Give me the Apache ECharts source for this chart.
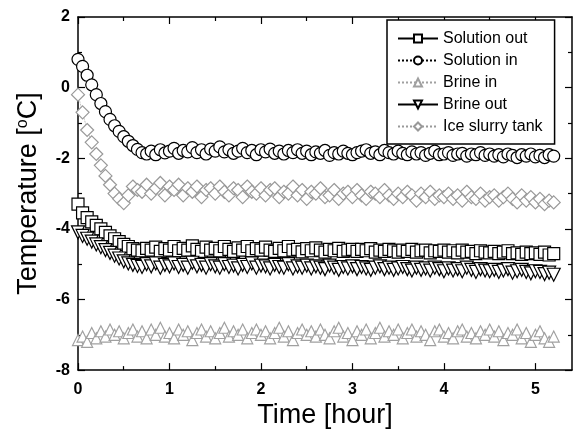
<!DOCTYPE html>
<html>
<head>
<meta charset="utf-8">
<script src="https://cdn.jsdelivr.net/npm/echarts@6/dist/echarts.min.js"></script>
<style>
  html, body { margin: 0; padding: 0; background: #fff; }
  #chart { width: 574px; height: 434px; }
</style>
</head>
<body>
<div id="chart"></div>
<script>
// time axis (hour)
const time = [
  0, 0.05, 0.1, 0.15, 0.2, 0.25, 0.3, 0.35, 0.4, 0.45, 0.5, 0.55, 0.6, 0.65,
  0.7, 0.75, 0.8, 0.85, 0.9, 0.95, 1.0,
  1.05, 1.1, 1.15, 1.2, 1.25, 1.3, 1.35, 1.4, 1.45, 1.5,
  1.55, 1.6, 1.65, 1.7, 1.75, 1.8, 1.85, 1.9, 1.95, 2.0,
  2.05, 2.1, 2.15, 2.2, 2.25, 2.3, 2.35, 2.4, 2.45, 2.5,
  2.55, 2.6, 2.65, 2.7, 2.75, 2.8, 2.85, 2.9, 2.95, 3.0,
  3.05, 3.1, 3.15, 3.2, 3.25, 3.3, 3.35, 3.4, 3.45, 3.5,
  3.55, 3.6, 3.65, 3.7, 3.75, 3.8, 3.85, 3.9, 3.95, 4.0,
  4.05, 4.1, 4.15, 4.2, 4.25, 4.3, 4.35, 4.4, 4.45, 4.5,
  4.55, 4.6, 4.65, 4.7, 4.75, 4.8, 4.85, 4.9, 4.95, 5.0,
  5.05, 5.1, 5.15, 5.2
];

const solutionOut = [
  -3.3, -3.55, -3.68, -3.8, -3.9, -4.0, -4.1, -4.2, -4.28, -4.36, -4.44, -4.5, -4.56, -4.6,
  -4.62, -4.55, -4.6, -4.52, -4.64, -4.56, -4.6,
  -4.5, -4.62, -4.55, -4.6, -4.48, -4.58, -4.64, -4.52, -4.6, -4.55,
  -4.62, -4.5, -4.58, -4.64, -4.54, -4.6, -4.5, -4.62, -4.56, -4.6,
  -4.52, -4.6, -4.64, -4.55, -4.62, -4.5, -4.6, -4.58, -4.65, -4.56,
  -4.62, -4.54, -4.6, -4.66, -4.58, -4.62, -4.55, -4.64, -4.6, -4.58,
  -4.64, -4.58, -4.62, -4.56, -4.66, -4.6, -4.64, -4.58, -4.62, -4.66,
  -4.6, -4.64, -4.58, -4.66, -4.62, -4.6, -4.68, -4.62, -4.64, -4.6,
  -4.66, -4.62, -4.68, -4.6, -4.66, -4.64, -4.7, -4.62, -4.66, -4.68,
  -4.64, -4.7, -4.66, -4.62, -4.7, -4.68, -4.72, -4.66, -4.7, -4.68,
  -4.72, -4.66, -4.74, -4.7
];

const solutionIn = [
  0.8, 0.6, 0.35, 0.08, -0.2, -0.45, -0.68, -0.9, -1.08, -1.24, -1.39, -1.52, -1.64, -1.75,
  -1.84, -1.88, -1.8, -1.9, -1.76, -1.85, -1.8,
  -1.72, -1.86, -1.78, -1.82, -1.7, -1.84, -1.76, -1.88, -1.74, -1.8,
  -1.68, -1.82, -1.76, -1.86, -1.8, -1.72, -1.84, -1.78, -1.9, -1.76,
  -1.82, -1.74, -1.86, -1.8, -1.88, -1.78, -1.84, -1.76, -1.86, -1.8,
  -1.9, -1.82, -1.86, -1.78, -1.92, -1.84, -1.88, -1.8, -1.86, -1.9,
  -1.84, -1.8, -1.76, -1.86, -1.82, -1.9, -1.78, -1.84, -1.88, -1.8,
  -1.86, -1.9, -1.82, -1.88, -1.84, -1.92, -1.86, -1.8, -1.9, -1.88,
  -1.84, -1.92, -1.88, -1.86, -1.94, -1.88, -1.9, -1.84, -1.92, -1.88,
  -1.94, -1.9, -1.96, -1.88, -1.92, -1.98, -1.9, -1.94, -1.88, -1.96,
  -1.92, -1.98, -1.9, -1.94
];

const brineIn = [
  -7.15, -7.05, -7.2, -6.95, -7.1, -6.9, -7.05, -6.85, -7.0, -6.9, -7.1, -6.95, -6.85, -7.05,
  -6.9, -7.1, -6.85, -7.0, -6.8, -7.05, -6.95,
  -7.1, -6.85, -7.0, -6.9, -7.15, -6.95, -6.85, -7.05, -6.9, -7.1,
  -6.95, -6.8, -7.05, -6.9, -7.0, -6.85, -7.1, -6.95, -6.85, -7.0,
  -6.9, -7.1, -6.95, -6.8, -7.05, -6.9, -7.15, -6.95, -6.85, -7.0,
  -6.9, -7.05, -6.85, -7.0, -7.1, -6.9, -6.8, -7.05, -6.95, -7.15,
  -6.9, -7.0, -6.85, -7.1, -6.95, -6.8, -7.05, -6.9, -7.0, -6.85,
  -7.1, -6.95, -6.85, -7.05, -6.9, -7.0, -7.15, -6.9, -6.85, -7.05,
  -6.95, -7.1, -6.9, -6.85, -7.05, -6.95, -7.1, -6.9, -7.0, -6.85,
  -7.05, -6.9, -7.15, -6.95, -7.0, -6.85, -7.1, -6.95, -7.2, -7.0,
  -6.9, -7.1, -7.2, -7.05
];

const brineOut = [
  -4.1, -4.2, -4.28, -4.36, -4.44, -4.52, -4.6, -4.68, -4.76, -4.84, -4.92, -4.98, -5.02, -5.05,
  -5.08, -5.0, -5.06, -4.98, -5.1, -5.02, -5.06,
  -4.98, -5.08, -5.02, -5.1, -4.96, -5.06, -5.02, -5.1, -5.0, -5.06,
  -5.1, -5.0, -5.08, -5.04, -5.12, -5.02, -5.08, -4.98, -5.1, -5.04,
  -5.06, -5.12, -5.02, -5.08, -5.1, -5.0, -5.12, -5.06, -5.1, -5.04,
  -5.12, -5.06, -5.1, -5.14, -5.04, -5.1, -5.16, -5.08, -5.12, -5.06,
  -5.14, -5.08, -5.12, -5.16, -5.1, -5.06, -5.14, -5.1, -5.16, -5.12,
  -5.08, -5.14, -5.18, -5.1, -5.16, -5.12, -5.18, -5.1, -5.14, -5.2,
  -5.12, -5.18, -5.14, -5.2, -5.1, -5.16, -5.22, -5.14, -5.18, -5.2,
  -5.16, -5.22, -5.18, -5.14, -5.24, -5.2, -5.16, -5.22, -5.26, -5.2,
  -5.22, -5.28, -5.24, -5.3
];

const iceSlurryTank = [
  -0.2, -0.7, -1.2, -1.55, -1.88, -2.2, -2.5, -2.75, -3.0, -3.15, -3.27, -3.05, -2.8, -2.9,
  -2.95, -2.75, -3.0, -2.85, -2.7, -3.05, -2.8,
  -2.9, -2.75, -3.05, -2.85, -2.95, -2.8, -3.1, -2.9, -2.85, -3.0,
  -2.8, -2.95, -3.05, -2.85, -2.9, -3.1, -2.8, -2.95, -3.0, -2.85,
  -3.05, -2.9, -2.85, -3.1, -2.95, -3.0, -2.8, -3.05, -2.9, -3.15,
  -2.95, -3.0, -2.85, -3.1, -3.05, -2.9, -3.15, -3.0, -2.95, -3.1,
  -2.9, -3.05, -3.15, -2.95, -3.0, -3.1, -2.9, -3.05, -3.15, -3.0,
  -3.1, -2.95, -3.05, -3.2, -3.0, -3.1, -2.95, -3.15, -3.05, -3.1,
  -3.0, -3.15, -3.05, -3.2, -2.95, -3.1, -3.15, -3.0, -3.2, -3.1,
  -3.05, -3.2, -3.1, -3.0, -3.15, -3.25, -3.05, -3.2, -3.1, -3.25,
  -3.15, -3.3, -3.2, -3.25
];

const xMajor = [0, 1, 2, 3, 4, 5];
const xMinor = [0.5, 1.5, 2.5, 3.5, 4.5];

const FONT = '"Liberation Sans", Arial, sans-serif';
const chart = echarts.init(document.getElementById('chart'));

const pairs = ys => time.map((t, i) => [t, ys[i]]);

const frameLine = { show: true, onZero: false, lineStyle: { color: '#000', width: 1.5 } };

// one series style helper
const mk = (name, ys, symbol, size, color, lineType, rotate) => ({
  name: name,
  type: 'line',
  data: pairs(ys),
  symbol: symbol,
  symbolSize: size,
  symbolRotate: rotate || 0,
  showAllSymbol: true,
  itemStyle: { color: '#fff', borderColor: color, borderWidth: 1.2 },
  lineStyle: { color: color, width: 0.8, type: lineType },
  emphasis: { disabled: true },
  xAxisIndex: 0,
  yAxisIndex: 0
});

const option = {
  animation: false,
  textStyle: { fontFamily: FONT },
  grid: { left: 78, right: 2, top: 17, bottom: 57 },
  legend: {
    left: 387,
    top: 20,
    orient: 'vertical',
    padding: [9, 12, 8, 10],
    itemWidth: 40,
    itemHeight: 10,
    itemGap: 3,
    borderColor: '#000',
    borderWidth: 1.5,
    backgroundColor: '#fff',
    textStyle: { fontFamily: FONT, fontSize: 16, color: '#000', lineHeight: 19 },
    data: ['Solution out', 'Solution in', 'Brine in', 'Brine out', 'Ice slurry tank']
  },
  xAxis: [
    {
      type: 'value', position: 'bottom', min: 0, max: 5.4,
      name: 'Time [hour]', nameLocation: 'middle', nameGap: 30,
      nameTextStyle: { fontFamily: FONT, fontSize: 27, color: '#000' },
      axisLine: frameLine,
      axisTick: { show: true, inside: true, length: 7, customValues: xMajor, lineStyle: { color: '#000', width: 1.2 } },
      axisLabel: { customValues: xMajor, fontFamily: FONT, fontSize: 16, fontWeight: 'bold', color: '#000', margin: 11 },
      splitLine: { show: false }
    },
    {
      type: 'value', position: 'bottom', min: 0, max: 5.4,
      axisLine: { show: false, onZero: false },
      axisTick: { show: true, inside: true, length: 4, customValues: xMinor, lineStyle: { color: '#000', width: 1.2 } },
      axisLabel: { show: false },
      splitLine: { show: false }
    },
    {
      type: 'value', position: 'top', min: 0, max: 5.4,
      axisLine: frameLine,
      axisTick: { show: true, inside: true, length: 7, customValues: xMajor, lineStyle: { color: '#000', width: 1.2 } },
      axisLabel: { show: false },
      splitLine: { show: false }
    },
    {
      type: 'value', position: 'top', min: 0, max: 5.4,
      axisLine: { show: false, onZero: false },
      axisTick: { show: true, inside: true, length: 4, customValues: xMinor, lineStyle: { color: '#000', width: 1.2 } },
      axisLabel: { show: false },
      splitLine: { show: false }
    }
  ],
  yAxis: [
    {
      type: 'value', position: 'left', min: -8, max: 2, interval: 2,
      name: '{t|Temperature [}{s|o}{t|C]}', nameLocation: 'middle', nameGap: 36, nameRotate: 90,
      nameTextStyle: {
        rich: {
          t: { fontFamily: FONT, fontSize: 27, color: '#000' },
          s: { fontFamily: FONT, fontSize: 16, color: '#000', verticalAlign: 'top', padding: [0, 0, 10, 0] }
        }
      },
      axisLine: frameLine,
      axisTick: { show: true, inside: true, length: 7, lineStyle: { color: '#000', width: 1.2 } },
      minorTick: { show: true, splitNumber: 2, length: 4, lineStyle: { color: '#000', width: 1.2 } },
      axisLabel: { fontFamily: FONT, fontSize: 16, fontWeight: 'bold', color: '#000', margin: 8 },
      splitLine: { show: false }
    },
    {
      type: 'value', position: 'right', min: -8, max: 2, interval: 2,
      axisLine: frameLine,
      axisTick: { show: true, inside: true, length: 7, lineStyle: { color: '#000', width: 1.2 } },
      minorTick: { show: true, splitNumber: 2, length: 4, lineStyle: { color: '#000', width: 1.2 } },
      axisLabel: { show: false },
      splitLine: { show: false }
    }
  ],
  series: [
    mk('Brine in', brineIn, 'triangle', 11, '#a0a0a0', 'dotted'),
    mk('Ice slurry tank', iceSlurryTank, 'diamond', 13, '#999', 'dotted'),
    mk('Solution out', solutionOut, 'rect', 12, '#000', 'solid'),
    mk('Solution in', solutionIn, 'circle', 12, '#000', 'dotted'),
    mk('Brine out', brineOut, 'triangle', 13, '#000', 'solid', 180)
  ]
};

chart.setOption(option);
</script>
</body>
</html>
